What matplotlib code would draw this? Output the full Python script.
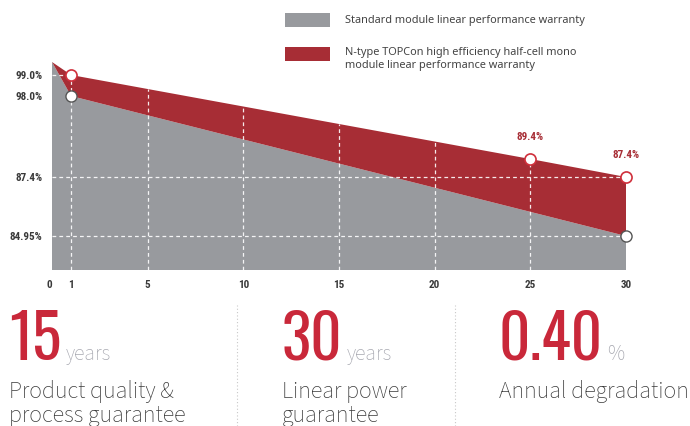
import numpy as np
import matplotlib
matplotlib.use("Agg")
import matplotlib.pyplot as plt
from matplotlib.patches import Rectangle

# warranty curves
years = [0, 1, 25, 30]
topcon = [100.0, 99.0, 89.4, 87.4]
std_years = [0, 1, 30]
standard = [100.0, 98.0, 84.95]

ytick_vals = [99.0, 98.0, 87.4, 84.95]
ytick_labels = ['99.0%', '98.0%', '87.4%', '84.95%']
xtick_vals = [0, 1, 5, 10, 15, 20, 25, 30]

stats = [('15', 'years', ['Product quality &', 'process guarantee']),
         ('30', 'years', ['Linear power', 'guarantee']),
         ('0.40', '%', ['Annual degradation'])]

RED = '#a72d35'
GRAY = '#989a9e'
TXT = '#3a3a3a'
BIGRED = '#c9283a'
TICKF = ['Roboto Condensed', 'IBM Plex Sans Condensed', 'Roboto', 'DejaVu Sans']
BIGF = ['Oswald', 'Open Sans Condensed', 'DejaVu Sans']
BODY = ['Source Sans 3', 'Source Sans Pro', 'Roboto', 'DejaVu Sans']

# stylised (non-linear) value axis, as in the brochure
_v = np.array([60.0, 83.5, 84.95, 87.4, 89.4, 98.0, 99.0, 100.0, 120.0])
_p = np.array([-560.0, 0, 34, 93, 111, 174, 195, 208, 468])


def fwd(v):
    return np.interp(v, _v, _p)


def inv(p):
    return np.interp(p, _p, _v)


fig = plt.figure(figsize=(6.9, 4.26), dpi=100)
ax = fig.add_axes([52 / 690, 156 / 426, 574 / 690, 208 / 426])
ax.set_yscale('function', functions=(fwd, inv))
ax.set_xlim(0, 30)
ax.set_ylim(83.5, 100)

# gray area: under the standard line
gx = std_years + [30, 0]
gy = standard + [83.5, 83.5]
ax.fill(gx, gy, color=GRAY, lw=0, zorder=1)
# red band: between the two lines
rx = years + std_years[::-1]
ry = topcon + standard[::-1]
ax.fill(rx, ry, color=RED, lw=0, zorder=1)


def top_at(x):
    return inv(np.interp(x, years, fwd(np.array(topcon))))


dash = dict(color='white', lw=0.9, ls=(0, (3, 2.5)), zorder=2, alpha=0.9)
for x in [1, 5, 10, 15, 20, 25]:
    ax.plot([x, x], [83.5, top_at(x)], **dash)
ax.plot([0, 1], [99.0, 99.0], **dash)
ax.plot([0, 30], [87.4, 87.4], **dash)
ax.plot([0, 30], [84.95, 84.95], **dash)

ax.plot(years[1:], topcon[1:], ls='none', marker='o', ms=8, mfc='white',
        mec='#d0303c', mew=1.2, zorder=4, clip_on=False)
ax.plot(std_years[1:], standard[1:], ls='none', marker='o', ms=8, mfc='white',
        mec='#555555', mew=1.0, zorder=4, clip_on=False)
for x, v in zip(years[2:], topcon[2:]):
    ax.annotate(f'{v}%', (x, v), xytext=(0, 12), textcoords='offset points',
                ha='center', va='bottom', color=RED, fontsize=8,
                fontweight='bold', family=TICKF)

for s in ax.spines.values():
    s.set_visible(False)
ax.set_xticks(xtick_vals)
ax.set_xticklabels([str(v) for v in xtick_vals])
ax.set_yticks(ytick_vals)
ax.set_yticklabels(ytick_labels)
ax.tick_params(length=0, pad=7, labelsize=8, labelcolor=TXT)
for lab in ax.get_xticklabels() + ax.get_yticklabels():
    lab.set_fontweight('bold')
    lab.set_family(TICKF)
ax.get_xticklabels()[0].set_ha('right')

# legend
fig.add_artist(Rectangle((285 / 690, 1 - 27 / 426), 45 / 690, 14 / 426,
                         transform=fig.transFigure, color=GRAY, lw=0))
fig.add_artist(Rectangle((285 / 690, 1 - 61 / 426), 45 / 690, 14 / 426,
                         transform=fig.transFigure, color=RED, lw=0))
fig.text(345 / 690, 1 - 20 / 426, 'Standard module linear performance warranty',
         va='center', fontsize=7.9, color='#444444', family='Noto Sans')
fig.text(345 / 690, 1 - 59 / 426,
         'N-type TOPCon high efficiency half-cell mono\nmodule linear performance warranty',
         va='center', fontsize=7.9, color='#444444', family='Noto Sans',
         linespacing=1.15)

# key figures
lefts = [9, 282, 499]
for (num, unit, desc), lx in zip(stats, lefts):
    t = fig.text(lx / 690, 1 - 360 / 426, num, fontsize=44, fontweight='bold',
                 color=BIGRED, family=BIGF, va='baseline')
    fig.canvas.draw()
    bb = t.get_window_extent()
    fig.text((bb.x1 + 4) / 690, 1 - 360 / 426, unit, fontsize=15.5,
             color='#a7a8b0', family=BODY, fontweight='light', va='baseline')
    for i, line in enumerate(desc):
        fig.text(lx / 690, 1 - (398 + 24 * i) / 426, line, fontsize=17.3,
                 color='#3a3a3a', family=BODY, fontweight='light',
                 va='baseline')

for sx in [237, 455]:
    fig.add_artist(plt.Line2D([sx / 690, sx / 690], [0, 1 - 305 / 426],
                              transform=fig.transFigure, color='#c8c8c8',
                              lw=0.8, ls=(0, (1, 2))))

fig.savefig('out.png', dpi=100)
